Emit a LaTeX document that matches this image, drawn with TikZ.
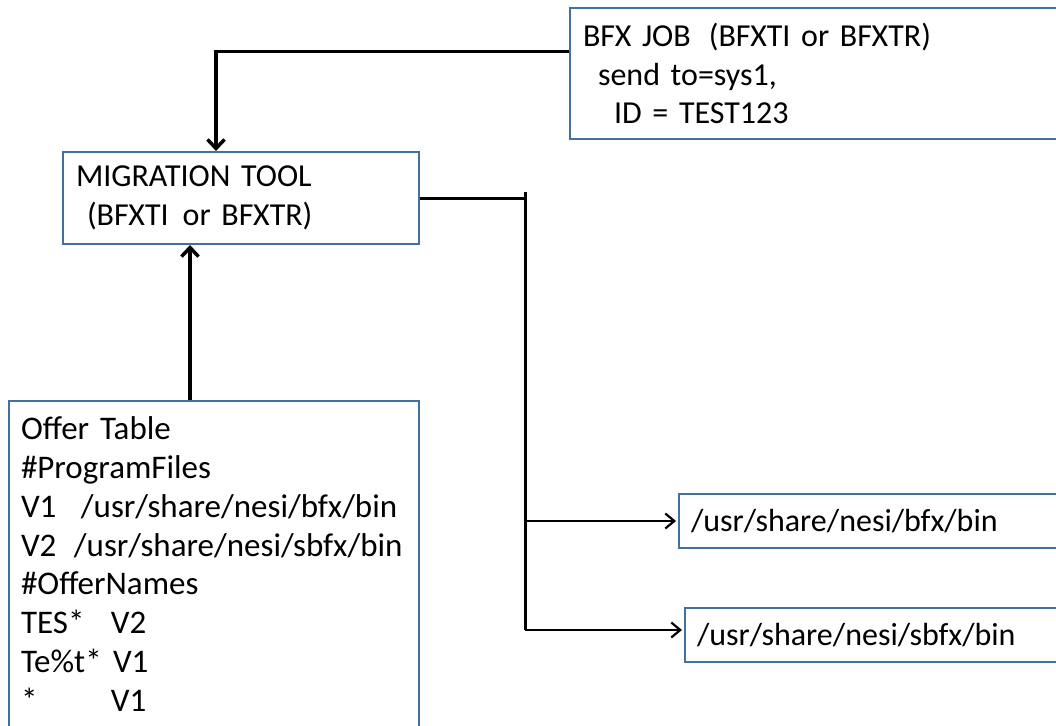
\documentclass[tikz,border=0pt]{standalone}
\usepackage{fontspec}
\setmainfont{Carlito}
\usetikzlibrary{arrows.meta,calc}

\definecolor{boxblue}{HTML}{41719C}

\tikzset{
  box/.style={draw=boxblue,line width=2pt,anchor=north west,align=left,
    inner xsep=13pt,inner ysep=0pt,font=\fontsize{32}{38.8}\selectfont},
  conn/.style={line width=3.5pt,-{Straight Barb[length=9pt,width=17pt,line width=3.5pt]}},
  thin conn/.style={line width=2.2pt,-{Straight Barb[length=9pt,width=15pt,line width=2.2pt]},shorten >=2pt},
}

\begin{document}
\begin{tikzpicture}[x=1pt,y=-1pt]
  \useasboundingbox (0,0) rectangle (1056,725);
  \clip (0,0) rectangle (1056,725);

  \node[box,text width=574pt,minimum height=131pt] (bfx) at (569,7)
    {BFX JOB\hspace{18pt}(BFXTI or BFXTR)\\
     \hspace{15pt}send to=sys1,\\
     \hspace{31pt}ID = TEST123};
  \node[box,text width=330pt,minimum height=92pt] (mig) at (62,151)
    {MIGRATION TOOL\\
     \hspace{11pt}(BFXTI\hspace{14pt}or BFXTR)};
  \node[box,text width=386pt,minimum height=326pt,inner xsep=12pt,
        font=\fontsize{33}{38.8}\selectfont] (offer) at (8,400)
    {Offer Table\\
     \#ProgramFiles\\
     \makebox[60pt][l]{V1}/usr/share/nesi/bfx/bin\\
     \makebox[53pt][l]{V2}/usr/share/nesi/sbfx/bin\\
     \#OfferNames\\
     \makebox[90pt][l]{TES*}V2\\
     \makebox[92pt][l]{Te\%t*}V1\\
     \makebox[90pt][l]{*}V1};
  \node[box,text width=420pt,minimum height=54pt,inner xsep=12pt] (bin) at (678,493)
    {/usr/share/nesi/bfx/bin};
  \node[box,text width=420pt,minimum height=54pt,inner xsep=12pt] (sbin) at (684,607)
    {/usr/share/nesi/sbfx/bin};

  % job -> tool
  \draw[conn] ([yshift=22pt]bfx.west) -| ([xshift=-25pt]mig.north);
  % offer table -> tool
  \draw[conn] ([xshift=-24pt]offer.north) -- ([xshift=-24pt]offer.north |- mig.south);

  % tool -> program dirs
  \coordinate (bustop) at (525,192);
  \coordinate (busbot) at (525,630);
  \draw[line width=3pt] (mig.east) -- (mig.east -| bustop);
  \draw[line width=3pt] (bustop) -- (busbot);
  \draw[thin conn] (bin.west -| bustop) -- (bin.west);
  \draw[thin conn] (busbot) -- (busbot -| sbin.west);
\end{tikzpicture}
\end{document}
